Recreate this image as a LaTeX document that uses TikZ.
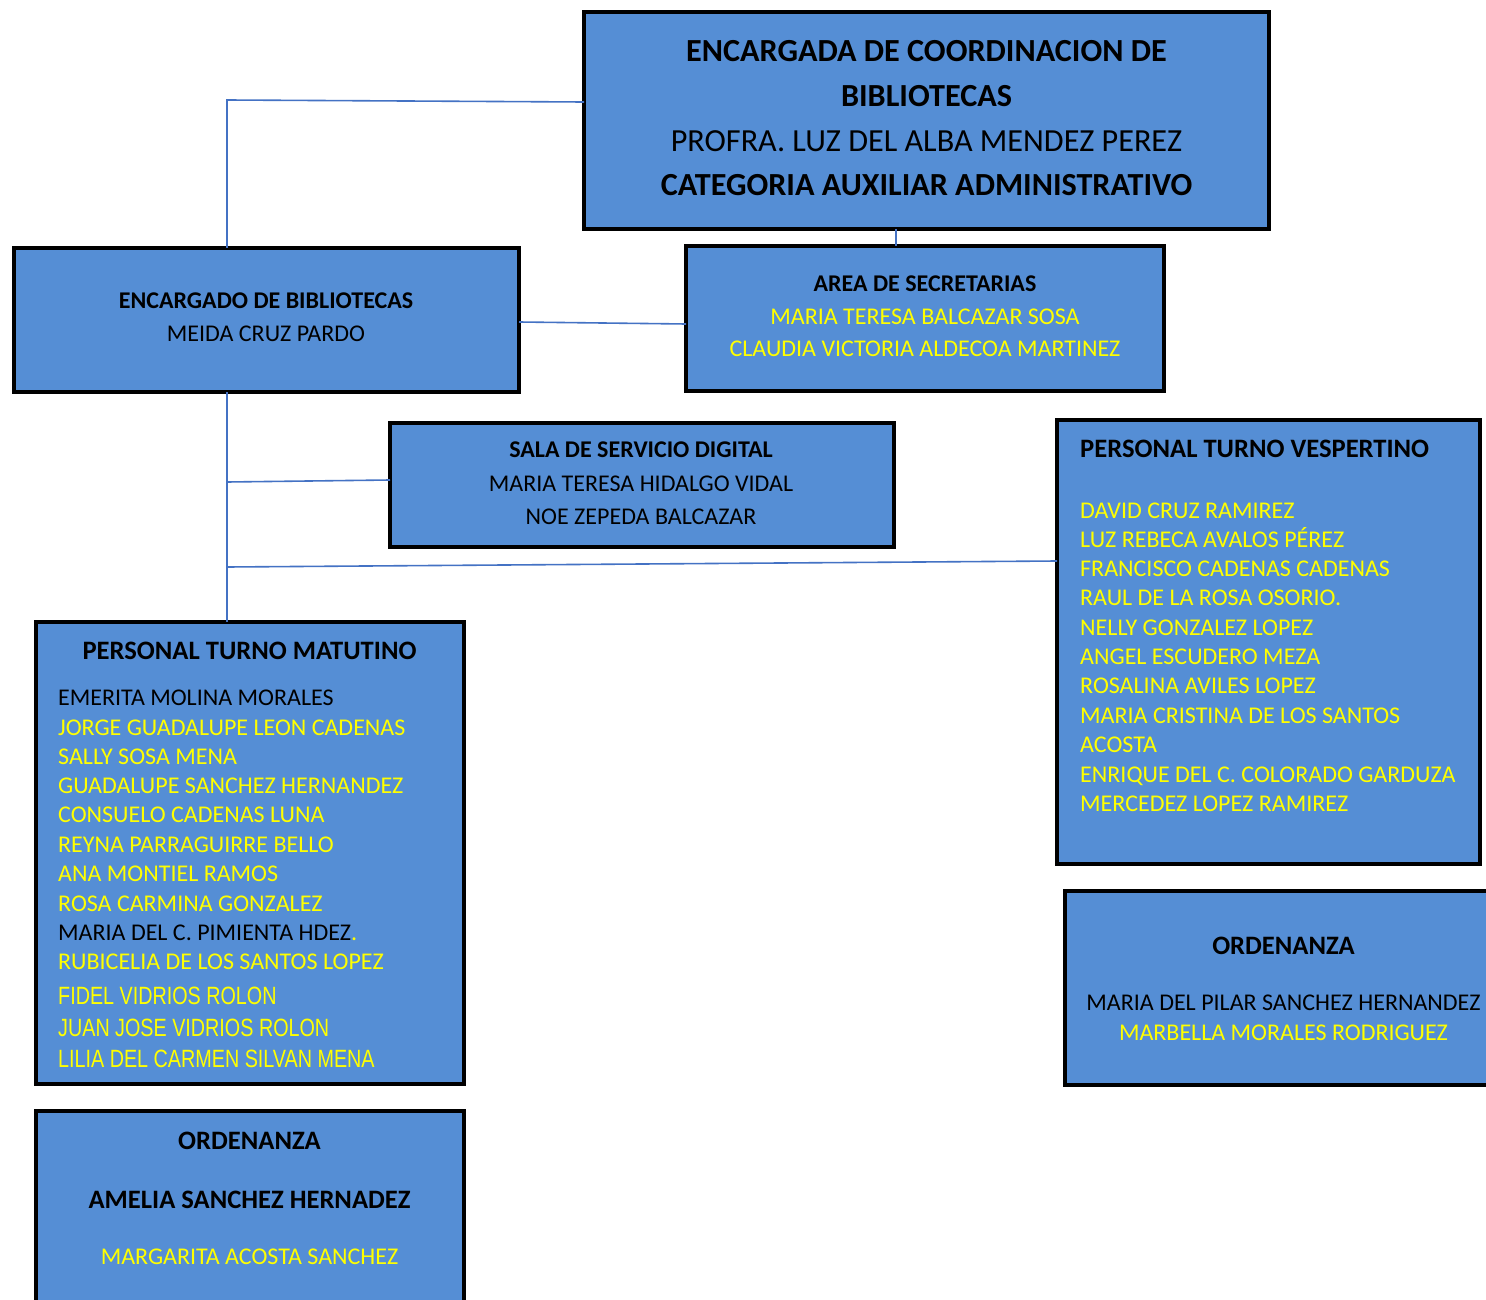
\documentclass[tikz,border=0pt]{standalone}
\usepackage{fontspec}
\setmainfont{Carlito}
\newfontfamily\arialfont{Liberation Sans}
\definecolor{boxblue}{RGB}{85,142,213}
\definecolor{conncol}{RGB}{68,114,196}
\definecolor{ylw}{RGB}{255,255,0}
\begin{document}
\begin{tikzpicture}[x=1pt,y=-1pt,
  box/.style={draw=black,line width=4.4pt,fill=boxblue,anchor=north west,inner sep=0pt,outer sep=0pt},
  conn/.style={draw=conncol,line width=1.6pt},
  body/.style={font=\fontsize{24}{29}\selectfont,inner sep=0pt,anchor=base},
  bodyb/.style={font=\fontsize{24}{29}\selectfont\bfseries,inner sep=0pt,anchor=base},
  sect/.style={font=\fontsize{26.6}{31}\selectfont\bfseries,inner sep=0pt,anchor=base},
  big/.style={font=\fontsize{32.2}{38}\selectfont,inner sep=0pt,anchor=base},
  bigb/.style={font=\fontsize{32.2}{38}\selectfont\bfseries,inner sep=0pt,anchor=base},
  ar/.style={font=\fontsize{25}{30}\arialfont,inner sep=0pt,anchor=base west,text=ylw},
  yl/.style={text=ylw}]
\useasboundingbox (0,0) rectangle (1486,1300);
\clip (0,0) rectangle (1486,1300);
\fill[white] (0,0) rectangle (1486,1300);

% boxes
\node[box,minimum width=685pt,minimum height=217pt] (top) at (584,12) {};
\node[box,minimum width=505pt,minimum height=144pt] (enc) at (14,248) {};
\node[box,minimum width=478pt,minimum height=145pt] (sec) at (686,246) {};
\node[box,minimum width=504pt,minimum height=124pt] (sala) at (390,423) {};
\node[box,minimum width=423pt,minimum height=444pt] (vesp) at (1057,420) {};
\node[box,minimum width=440pt,minimum height=194pt] (ordr) at (1065,891) {};
\node[box,minimum width=428pt,minimum height=462pt] (mat) at (36,622) {};
\node[box,minimum width=428pt,minimum height=220pt] (ordl) at (36,1111) {};

% connectors
\coordinate (jt) at (227,100);
\coordinate (js) at (227,482);
\coordinate (jv) at (227,567);
\draw[conn] (top.west |- 0,102) -- (jt) -- (jt |- enc.north);
\draw[conn] (896,0 |- top.south) -- (896,0 |- sec.north);
\draw[conn] (enc.east |- 0,322) -- (sec.west |- 0,324);
\draw[conn] (jt |- enc.south) -- (jt |- mat.north);
\draw[conn] (js) -- (sala.west |- 0,480);
\draw[conn] (jv) -- (vesp.west |- 0,561);

% top box text
\node[bigb] (t1) at (926.5,61.3) {ENCARGADA DE COORDINACION DE};
\node[bigb] (t2) at (926.5,106.3) {BIBLIOTECAS};
\node[big] (t3) at (926.5,151.3) {PROFRA. LUZ DEL ALBA MENDEZ PEREZ};
\node[bigb] (t4) at (926.5,195.3) {CATEGORIA AUXILIAR ADMINISTRATIVO};

% encargado
\node[bodyb] (e1) at (266,308.7) {ENCARGADO DE BIBLIOTECAS};
\node[body] (e2) at (266,341.7) {MEIDA CRUZ PARDO};

% secretarias
\node[bodyb] (s1) at (925,291.7) {AREA DE SECRETARIAS};
\node[body,yl] (s2) at (925,324.7) {MARIA TERESA BALCAZAR SOSA};
\node[body,yl] (s3) at (925,356.7) {CLAUDIA VICTORIA ALDECOA MARTINEZ};

% sala
\node[bodyb] (d1) at (641,457.7) {SALA DE SERVICIO DIGITAL};
\node[body] (d2) at (641,491.7) {MARIA TERESA HIDALGO VIDAL};
\node[body] (d3) at (641,524.7) {NOE ZEPEDA BALCAZAR};

% vespertino
\node[sect,anchor=base west] (vt) at (1080,457.6) {PERSONAL TURNO VESPERTINO};
\foreach \nm/\yy [count=\i] in {DAVID CRUZ RAMIREZ/511, LUZ REBECA AVALOS PÉREZ/540, FRANCISCO CADENAS CADENAS/569, RAUL DE LA ROSA OSORIO./598, NELLY GONZALEZ LOPEZ/628, ANGEL ESCUDERO MEZA/657, ROSALINA AVILES LOPEZ/686, MARIA CRISTINA DE LOS SANTOS/716, ACOSTA/745, ENRIQUE DEL C. COLORADO GARDUZA/775, MERCEDEZ LOPEZ RAMIREZ/804}
  \node[body,yl,anchor=base west] (v\i) at (1080,\yy+7.7) {\nm};

% matutino
\node[sect] (mt) at (249.5,659.6) {PERSONAL TURNO MATUTINO};
\node[body,anchor=base west] (m1) at (58,705.7) {EMERITA MOLINA MORALES};
\foreach \nm/\yy [count=\i from 2] in {JORGE GUADALUPE LEON CADENAS/728, SALLY SOSA MENA/757, GUADALUPE SANCHEZ HERNANDEZ/786, CONSUELO CADENAS LUNA/815, REYNA PARRAGUIRRE BELLO/845, ANA MONTIEL RAMOS/874, ROSA CARMINA GONZALEZ/904}
  \node[body,yl,anchor=base west] (m\i) at (58,\yy+7.7) {\nm};
\node[body,anchor=base west] (m9) at (58,940.7) {MARIA DEL C. PIMIENTA HDEZ{\color{ylw}.}};
\node[body,yl,anchor=base west] (m10) at (58,969.7) {RUBICELIA DE LOS SANTOS LOPEZ};
\node[ar] (m11) at (58,1004) {\scalebox{0.79}[1]{FIDEL VIDRIOS ROLON}};
\node[ar] (m12) at (58,1036) {\scalebox{0.79}[1]{JUAN JOSE VIDRIOS ROLON}};
\node[ar] (m13) at (58,1067) {\scalebox{0.79}[1]{LILIA DEL CARMEN SILVAN MENA}};

% ordenanza right
\node[sect] (or1) at (1283.5,954.6) {ORDENANZA};
\node[body] (or2) at (1283.5,1010.7) {MARIA DEL PILAR SANCHEZ HERNANDEZ};
\node[body,yl] (or3) at (1283.5,1040.7) {MARBELLA MORALES RODRIGUEZ};

% ordenanza left
\node[sect] (ol1) at (249.5,1149.6) {ORDENANZA};
\node[sect] (ol2) at (249.5,1208.6) {AMELIA SANCHEZ HERNADEZ};
\node[body,yl] (ol3) at (249.5,1264.7) {MARGARITA ACOSTA SANCHEZ};
\end{tikzpicture}
\end{document}
